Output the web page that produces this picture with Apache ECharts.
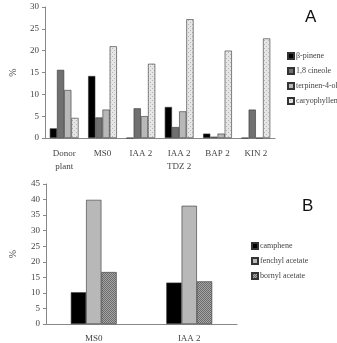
<!DOCTYPE html>
<html>
<head>
<meta charset="utf-8">
<script src="https://cdn.jsdelivr.net/npm/echarts@6/dist/echarts.min.js"></script>
<style>
  html, body { margin: 0; padding: 0; background: #fff; }
  #chart { width: 337px; height: 343px; }
</style>
</head>
<body>
<div id="chart"></div>
<script>
// panel A
var catsA = ['Donor\nplant', 'MS0', 'IAA 2', 'IAA 2\nTDZ 2', 'BAP 2', 'KIN 2'];
var namesA = ['β-pinene', '1,8 cineole', 'terpinen-4-ol', 'caryophyllene'];
var pinene = [2.2, 14.2, 0, 7.1, 1.0, 0];
var cineole = [15.6, 4.7, 6.8, 2.5, 0.3, 6.5];
var terpinenol = [11.0, 6.5, 5.0, 6.1, 1.0, 0];
var caryophyllene = [4.6, 21.0, 17.0, 27.2, 20.0, 22.8];

// panel B
var catsB = ['MS0', 'IAA 2'];
var namesB = ['camphene', 'fenchyl acetate', 'bornyl acetate'];
var camphene = [10.2, 13.3];
var fenchyl = [39.9, 38.0];
var bornyl = [16.7, 13.7];

// small dotted fill patterns
function dots(bg, fg, step) {
    var c = document.createElement('canvas');
    c.width = step * 2; c.height = step * 2;
    var ctx = c.getContext('2d');
    ctx.fillStyle = bg;
    ctx.fillRect(0, 0, c.width, c.height);
    ctx.fillStyle = fg;
    ctx.fillRect(0, 0, 1, 1);
    ctx.fillRect(step, step, 1, 1);
    return { image: c, repeat: 'repeat' };
}
var lightDots = dots('#e6e6e6', '#b4b4b4', 2);
var darkDots = dots('#a6a6a6', '#6a6a6a', 1);

var serif = 'Liberation Serif';
var txt = { fontFamily: serif, fontSize: 9, color: '#444' };

function bar(name, vals, color, grid, gap) {
    return {
        name: name,
        type: 'bar',
        xAxisIndex: grid,
        yAxisIndex: grid,
        data: vals,
        barGap: '0%',
        barCategoryGap: gap,
        itemStyle: { color: color, borderColor: '#333', borderWidth: 0.6 }
    };
}

var chart = echarts.init(document.getElementById('chart'));
chart.setOption({
    animation: false,
    title: [
        { text: 'A', left: 300, top: 4, textStyle: { fontFamily: 'Liberation Sans', fontSize: 17, fontWeight: 'normal', color: '#111' } },
        { text: 'B', left: 297, top: 193, textStyle: { fontFamily: 'Liberation Sans', fontSize: 17, fontWeight: 'normal', color: '#111' } }
    ],
    legend: [
        {
            data: namesA, orient: 'vertical', left: 282, top: 47,
            itemWidth: 6, itemHeight: 6, itemGap: 7, icon: 'rect',
            textStyle: { fontFamily: serif, fontSize: 8, color: '#444', padding: [0, 0, 0, -3] }
        },
        {
            data: namesB, orient: 'vertical', left: 246, top: 237,
            itemWidth: 6, itemHeight: 6, itemGap: 7, icon: 'rect',
            textStyle: { fontFamily: serif, fontSize: 8, color: '#444', padding: [0, 0, 0, -3] }
        }
    ],
    grid: [
        { left: 33, right: 62, top: 7, bottom: 205 },
        { left: 35, right: 100, top: 184, bottom: 17 }
    ],
    xAxis: [
        {
            type: 'category', gridIndex: 0, data: catsA,
            axisLine: { lineStyle: { color: '#888' } },
            axisTick: { length: 4, lineStyle: { color: '#888' } },
            axisLabel: Object.assign({ margin: 9, lineHeight: 13, interval: 0 }, txt)
        },
        {
            type: 'category', gridIndex: 1, data: catsB,
            axisLine: { lineStyle: { color: '#888' } },
            axisTick: { length: 4, lineStyle: { color: '#888' } },
            axisLabel: Object.assign({ margin: 10 }, txt)
        }
    ],
    yAxis: [
        {
            type: 'value', gridIndex: 0, min: 0, max: 30, interval: 5,
            name: '%', nameLocation: 'middle', nameGap: 27, nameRotate: 90,
            nameTextStyle: { fontFamily: serif, fontSize: 10, color: '#444' },
            axisLine: { show: true, lineStyle: { color: '#888' } },
            axisTick: { show: true, length: 3, lineStyle: { color: '#888' } },
            splitLine: { show: false },
            axisLabel: Object.assign({ margin: 6 }, txt)
        },
        {
            type: 'value', gridIndex: 1, min: 0, max: 45, interval: 5,
            name: '%', nameLocation: 'middle', nameGap: 28, nameRotate: 90,
            nameTextStyle: { fontFamily: serif, fontSize: 10, color: '#444' },
            axisLine: { show: true, lineStyle: { color: '#888' } },
            axisTick: { show: true, length: 3, lineStyle: { color: '#888' } },
            splitLine: { show: false },
            axisLabel: Object.assign({ margin: 6 }, txt)
        }
    ],
    series: [
        bar(namesA[0], pinene, '#000000', 0, '25%'),
        bar(namesA[1], cineole, '#707070', 0, '25%'),
        bar(namesA[2], terpinenol, '#b8b8b8', 0, '25%'),
        bar(namesA[3], caryophyllene, lightDots, 0, '25%'),
        bar(namesB[0], camphene, '#000000', 1, '52%'),
        bar(namesB[1], fenchyl, '#b8b8b8', 1, '52%'),
        bar(namesB[2], bornyl, darkDots, 1, '52%')
    ]
});
</script>
</body>
</html>
